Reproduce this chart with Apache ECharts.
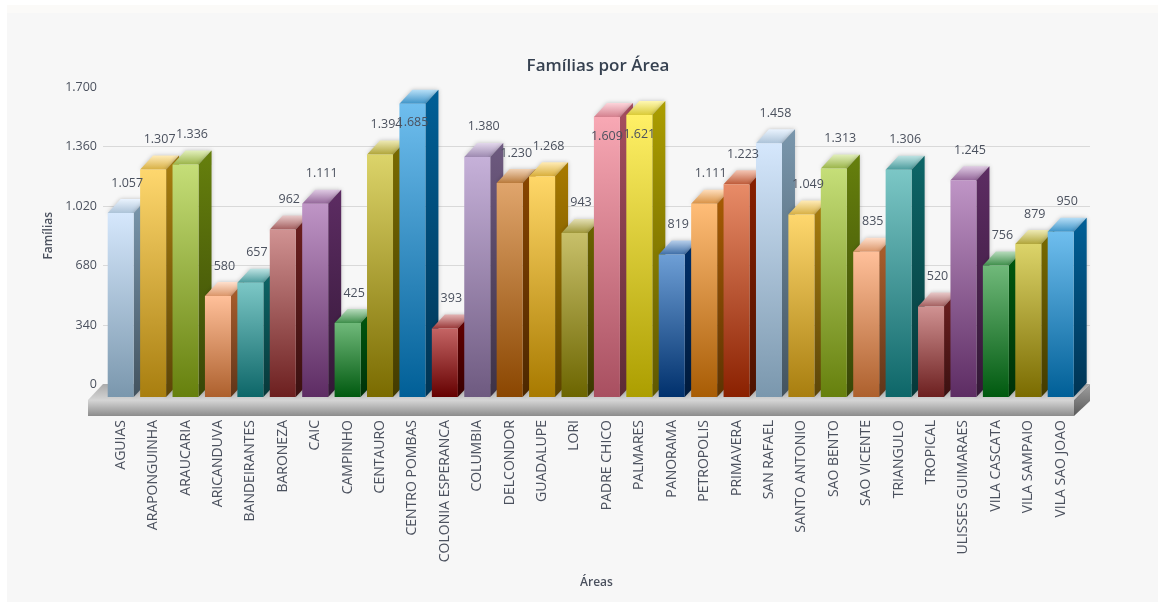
<!DOCTYPE html>
<html>
<head>
<meta charset="utf-8">
<style>
  html, body { margin: 0; padding: 0; background: #fff; }
  #strip { position: absolute; left: 7px; top: 5px; width: 1151px; height: 8px; background: #fbfaf8; }
  #panel { position: absolute; left: 7px; top: 13px; width: 1151px; height: 589px; background: #f7f7f7; }
  #chart { position: absolute; left: 0; top: 0; width: 1164px; height: 608px; filter: blur(0.4px); }
</style>
</head>
<body>
<div id="strip"></div>
<div id="panel"></div>
<div id="chart"></div>
<script src="https://cdn.jsdelivr.net/npm/echarts@6/dist/echarts.min.js"></script>
<script>
const areas = ['AGUIAS', 'ARAPONGUINHA', 'ARAUCARIA', 'ARICANDUVA', 'BANDEIRANTES', 'BARONEZA', 'CAIC', 'CAMPINHO',
  'CENTAURO', 'CENTRO POMBAS', 'COLONIA ESPERANCA', 'COLUMBIA', 'DELCONDOR', 'GUADALUPE', 'LORI', 'PADRE CHICO',
  'PALMARES', 'PANORAMA', 'PETROPOLIS', 'PRIMAVERA', 'SAN RAFAEL', 'SANTO ANTONIO', 'SAO BENTO', 'SAO VICENTE',
  'TRIANGULO', 'TROPICAL', 'ULISSES GUIMARAES', 'VILA CASCATA', 'VILA SAMPAIO', 'VILA SAO JOAO'];
const familias = [1057, 1307, 1336, 580, 657, 962, 1111, 425, 1394, 1685, 393, 1380, 1230, 1268, 943, 1609,
  1621, 819, 1111, 1223, 1458, 1049, 1313, 835, 1306, 520, 1245, 756, 879, 950];
const yMax = 1700;
const yStep = 340;

// cor da frente de cada barra: [topo, base]
const palette = [
  ['#d5e7fc', '#7a97ad'], ['#fed76e', '#a87e0f'], ['#c5de78', '#66800d'], ['#ffc09a', '#ad602d'],
  ['#7cc7c6', '#0d6668'], ['#d09292', '#6c1f1f'], ['#bf95c6', '#5d2c63'], ['#70b97a', '#00590f'],
  ['#dcd46a', '#7a6b00'], ['#6fbeee', '#005f97'], ['#c46464', '#650000'], ['#c6b1d9', '#6e5a80'],
  ['#e0a56c', '#8a4600'], ['#ffd768', '#a87a00'], ['#c8c06a', '#6c6500'], ['#f8a8b4', '#a84f60'],
  ['#fff066', '#ac9e00'], ['#6e9fd6', '#00306c'], ['#ffbd78', '#a85c04'], ['#e88c68', '#8a2000'],
];

const depthX = 13;
const depthY = -14;
const barWidth = 26;
const textColor = '#4b515e';
const fontFamily = '"Open Sans", sans-serif';

const mix = (a, b, t) => echarts.color.lerp(t, [a, b]);
const vGrad = (c0, c1) => new echarts.graphic.LinearGradient(0, 0, 0, 1, [
  { offset: 0, color: c0 },
  { offset: 1, color: c1 },
]);
const fmt = (v) => String(v).replace(/\B(?=(\d{3})+$)/g, '.');

function renderBar(params, api) {
  const [cx, base] = api.coord([api.value(0), 0]);
  const top = api.coord([api.value(0), api.value(1)])[1];
  const x0 = cx - barWidth / 2;
  const x1 = cx + barWidth / 2;
  const [light, dark] = palette[params.dataIndex % palette.length];
  const shadow = { shadowBlur: 4, shadowColor: 'rgba(0,0,0,0.22)' };
  return {
    type: 'group',
    children: [
      {
        type: 'polygon',
        shape: { points: [[x0, top], [x1, top], [x1 + depthX, top + depthY], [x0 + depthX, top + depthY]] },
        style: { fill: vGrad(mix(light, '#ffffff', 0.5), mix(light, dark, 0.45)), ...shadow },
      },
      {
        type: 'polygon',
        shape: { points: [[x1, top], [x1 + depthX, top + depthY], [x1 + depthX, base + depthY], [x1, base]] },
        style: { fill: vGrad(dark, mix(dark, '#000000', 0.45)), ...shadow },
      },
      {
        type: 'rect',
        shape: { x: x0, y: top, width: barWidth, height: base - top },
        style: { fill: vGrad(light, dark) },
      },
    ],
  };
}

function renderValue(params, api) {
  const [cx, top] = api.coord([api.value(0), api.value(1)]);
  // perto do teto do grafico o rotulo entra na barra
  const inside = api.value(1) > 1500;
  return {
    type: 'text',
    x: inside ? cx : cx + 6.5,
    y: inside ? top + 19 : top - 30,
    style: {
      text: fmt(api.value(1)),
      fill: textColor,
      font: '12.5px ' + fontFamily,
      align: 'center',
      verticalAlign: 'middle',
    },
  };
}

const chart = echarts.init(document.getElementById('chart'), null, { renderer: 'canvas' });
const points = familias.map((v, i) => [i, v]);

chart.setOption({
  animation: false,
  title: {
    text: 'Famílias por Área',
    left: 593,
    top: 53,
    textAlign: 'center',
    textStyle: { fontSize: 17, fontWeight: 600, color: '#364150', fontFamily },
  },
  grid: [
    // plano de fundo (escala e linhas)
    { left: 103, top: 87, width: 987, height: 297.5 },
    // plano da frente das barras
    { left: 104.5, top: 101.2, width: 972.4, height: 295.8 },
  ],
  xAxis: [
    {
      gridIndex: 0,
      type: 'category',
      data: areas,
      name: 'Áreas',
      nameLocation: 'middle',
      nameGap: 192.5,
      nameTextStyle: { fontSize: 12, fontWeight: 600, color: textColor, fontFamily },
      axisLine: { show: false },
      axisTick: { show: false },
      axisLabel: { show: false },
    },
    {
      gridIndex: 1,
      type: 'category',
      data: areas,
      axisLine: { show: false },
      axisTick: { show: false },
      axisLabel: { rotate: 90, interval: 0, margin: 23, fontSize: 14, color: textColor, fontFamily },
    },
  ],
  yAxis: [
    {
      gridIndex: 0,
      type: 'value',
      min: 0,
      max: yMax,
      interval: yStep,
      name: 'Famílias',
      nameLocation: 'middle',
      nameGap: 44,
      nameTextStyle: { fontSize: 12, fontWeight: 600, color: textColor, fontFamily },
      axisLine: { show: false },
      axisTick: { show: false },
      axisLabel: { margin: 6, fontSize: 12.5, color: textColor, fontFamily, formatter: fmt, padding: [5, 0, 0, 0] },
      splitLine: { showMaxLine: false, lineStyle: { color: '#d9d9d9', width: 1 } },
    },
    { gridIndex: 1, type: 'value', min: 0, max: yMax, interval: yStep, show: false },
  ],
  // base cinza embaixo das barras
  graphic: [
    {
      type: 'polygon',
      z: 1,
      shape: { points: [[88, 400], [1074, 400], [1090, 384], [103, 384]] },
      style: { fill: vGrad('#aaaaaa', '#d4d4d4') },
    },
    {
      type: 'rect',
      z: 1,
      shape: { x: 88, y: 400, width: 986, height: 16 },
      style: { fill: vGrad('#d6d6d6', '#8c8c8c') },
    },
    {
      type: 'polygon',
      z: 1,
      shape: { points: [[1074, 400], [1090, 384], [1090, 401], [1074, 416]] },
      style: { fill: vGrad('#a0a0a0', '#5a5a5a') },
    },
  ],
  series: [
    {
      type: 'custom',
      xAxisIndex: 1,
      yAxisIndex: 1,
      z: 3,
      clip: false,
      renderItem: renderBar,
      data: points,
    },
    {
      type: 'custom',
      xAxisIndex: 1,
      yAxisIndex: 1,
      z: 4,
      clip: false,
      renderItem: renderValue,
      data: points,
    },
  ],
});
</script>
</body>
</html>
